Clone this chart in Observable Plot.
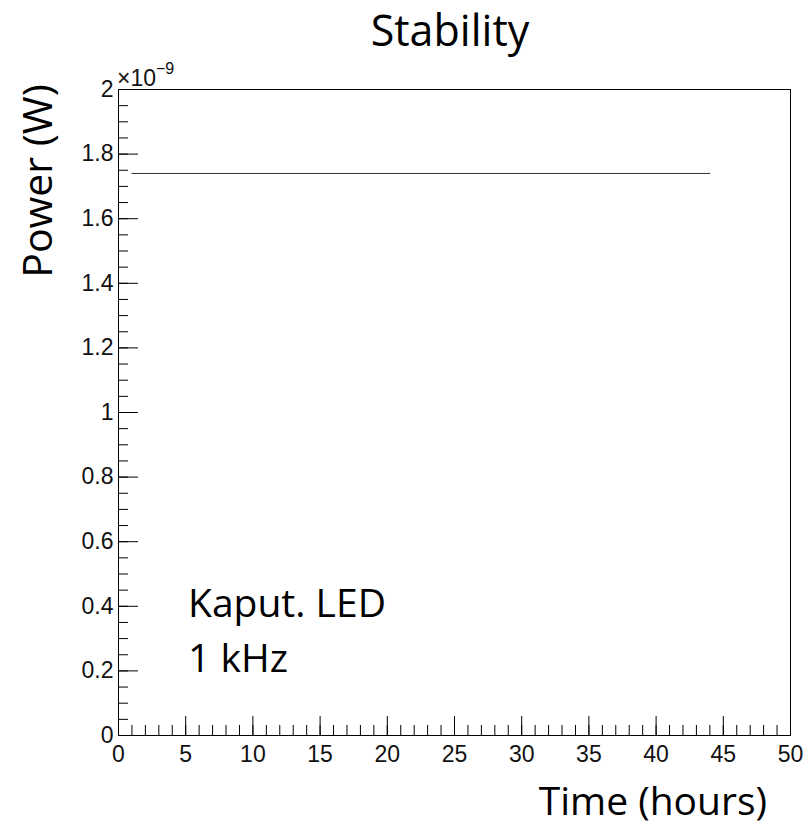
<!DOCTYPE html>
<html>
<head>
<meta charset="utf-8">
<script src="https://cdn.jsdelivr.net/npm/d3@7"></script>
<script src="https://cdn.jsdelivr.net/npm/@observablehq/plot@0.6"></script>
<style>
  html, body { margin: 0; padding: 0; background: white; overflow: hidden; }
</style>
</head>
<body>
<div id="chart"></div>
<script>
// Data
const timeHours = [1.0, 44.0];
const powerW = [1.74e-9, 1.74e-9];
const xMajorTicks = [0, 5, 10, 15, 20, 25, 30, 35, 40, 45, 50];
const xMinorTicks = d3.range(0, 51, 1);
const yMajorTicks = [0, 0.2e-9, 0.4e-9, 0.6e-9, 0.8e-9, 1.0e-9, 1.2e-9, 1.4e-9, 1.6e-9, 1.8e-9, 2.0e-9];
const yMinorTicks = d3.range(0, 41, 1).map(i => i * 0.05e-9);
const yTickLabels = ["0", "0.2", "0.4", "0.6", "0.8", "1", "1.2", "1.4", "1.6", "1.8", "2"];
const titleText = "Stability";
const xLabel = "Time (hours)";
const yLabel = "Power (W)";
const noteLines = ["Kaput. LED", "1 kHz"];

const rows = timeHours.map((t, i) => ({time: t, power: powerW[i]}));

const W = 808, H = 829;
const mL = 118, mR = 18, mT = 89, mB = 94;

const chart = Plot.plot({
  width: W,
  height: H,
  marginLeft: mL,
  marginRight: mR,
  marginTop: mT,
  marginBottom: mB,
  x: {domain: [0, 50]},
  y: {domain: [0, 2e-9]},
  style: {fontFamily: "'Liberation Sans', Arial, sans-serif", fontSize: "23px", color: "black", background: "white", overflow: "visible"},
  marks: [
    Plot.axisX({ticks: xMinorTicks, tickSize: -10, fill: "none", label: null, stroke: "black"}),
    Plot.axisX({ticks: xMajorTicks, tickSize: -19, fill: "none", label: null, stroke: "black"}),
    Plot.axisX({ticks: xMajorTicks, tickSize: 0, tickPadding: 10, tickFormat: d => String(d), label: null, fill: "#111", fontSize: 23}),
    Plot.axisY({ticks: yMinorTicks, tickSize: -10, fill: "none", label: null, stroke: "black"}),
    Plot.axisY({ticks: yMajorTicks, tickSize: 0, tickPadding: 5, tickFormat: (d, i) => yTickLabels[i], label: null, fill: "#111", fontSize: 23}),
    Plot.axisY({ticks: yMajorTicks, tickSize: -20, fill: "none", label: null, stroke: "black"}),
    Plot.frame({stroke: "black", strokeWidth: 1}),
    Plot.line(rows, {x: "time", y: "power", stroke: "#333", strokeWidth: 1})
  ]
});

document.getElementById("chart").appendChild(chart);

const svg = d3.select(chart);
const textFont = "'Open Sans', 'Noto Sans', sans-serif";

svg.append("text")
  .attr("x", 450).attr("y", 46)
  .attr("text-anchor", "middle")
  .style("font-family", textFont).style("font-size", "43px").attr("fill", "black")
  .text(titleText);

svg.append("text")
  .attr("x", 767).attr("y", 815)
  .attr("text-anchor", "end")
  .style("font-family", textFont).style("font-size", "39px").attr("fill", "black")
  .text(xLabel);

svg.append("text")
  .attr("transform", "translate(52,181) rotate(-90)")
  .attr("text-anchor", "middle")
  .style("font-family", textFont).style("font-size", "41px").attr("fill", "black")
  .text(yLabel);

// exponent label
const ex = svg.append("text")
  .attr("x", 117).attr("y", 86)
  .attr("text-anchor", "start")
  .attr("font-size", 23)
  .style("font-family", "'Liberation Sans', Arial, sans-serif").style("font-size", "23px").attr("fill", "#111");
ex.append("tspan").attr("font-size", 23).style("font-size", "23px").text("×10");
ex.append("tspan").attr("dy", -12).attr("font-size", 16).style("font-size", "16px").text("−9");

const note = svg.append("text")
  .attr("text-anchor", "start")
  .style("font-family", textFont).style("font-size", "39px").attr("fill", "black");
note.append("tspan").attr("x", 188).attr("y", 617).text(noteLines[0]);
note.append("tspan").attr("x", 188).attr("y", 672).text(noteLines[1]);
</script>
</body>
</html>
